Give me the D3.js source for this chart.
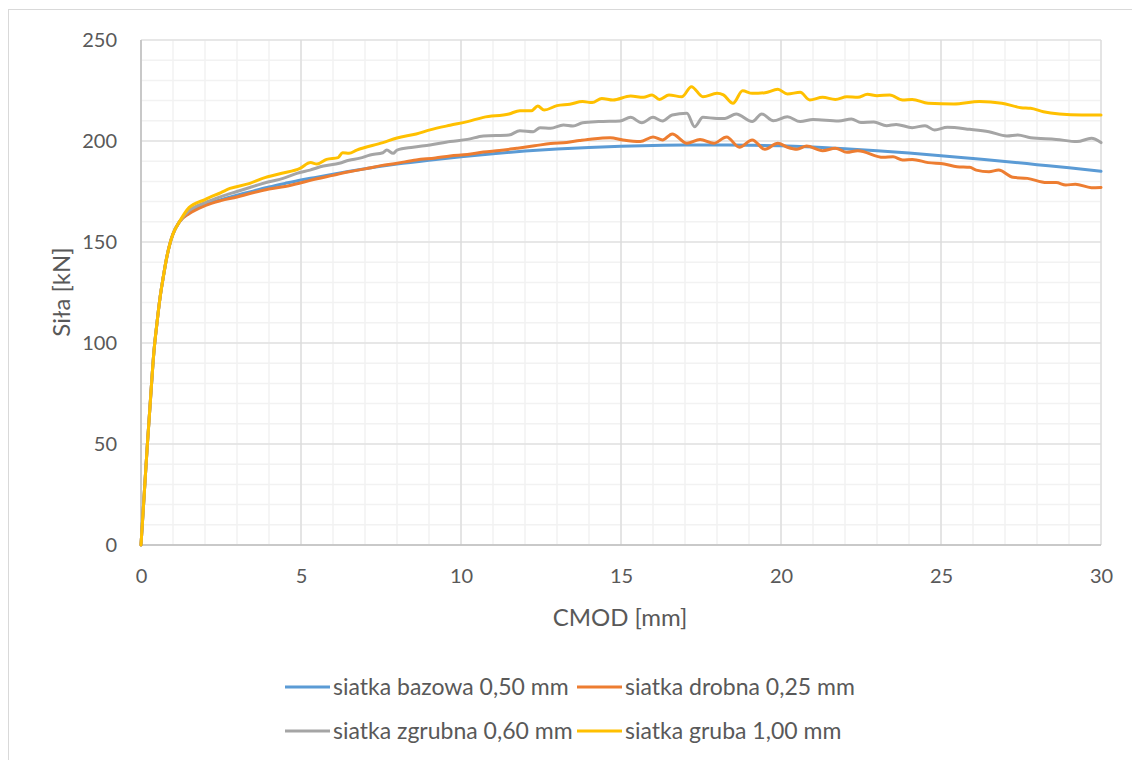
<!DOCTYPE html>
<html>
<head>
<meta charset="utf-8">
<script src="https://cdn.jsdelivr.net/npm/d3@7"></script>
<style>
  html, body { margin: 0; padding: 0; background: #fff; }
  svg { display: block; font-family: Lato, "Open Sans", sans-serif; }
</style>
</head>
<body>
<svg id="chart" width="1132" height="760"></svg>
<script>
// ---- data ----
const xTicks = [0, 5, 10, 15, 20, 25, 30];
const yTicks = [0, 50, 100, 150, 200, 250];
const seriesNames = ["siatka bazowa 0,50 mm", "siatka drobna 0,25 mm", "siatka zgrubna 0,60 mm", "siatka gruba 1,00 mm"];
const seriesColors = ["#5B9BD5", "#ED7D31", "#A5A5A5", "#FFC000"];

const riseCommon = [[0,0],[0.1,25],[0.2,50],[0.3,73],[0.4,95],[0.5,110],[0.6,123],[0.7,133],[0.8,142],[0.9,149],[1.0,154],[1.2,160]];

const bazowa = [[1.5,164.5],[2,168.5],[2.5,171],[3,173.2],[3.5,175.2],[4,177.2],[4.5,179],[5,180.7],[5.5,182.1],[6,183.6],[7,186.3],[8,188.6],[9,190.5],[10,192.2],[11,193.7],[12,195],[13,196],[14,196.8],[15,197.4],[16,197.8],[17,198],[18,198],[19,197.9],[20,197.6],[21,197],[22,196.2],[23,195.2],[24,194],[25,192.7],[26,191.3],[27,189.9],[28,188.3],[29,186.7],[30,185]];

const drobna = [[1.5,164],[2,168],[2.5,170.5],[3,172.3],[3.4,174],[4,176.2],[4.5,177.5],[5,179.3],[5.5,181.3],[6,183],[6.5,184.8],[7,186.2],[7.5,187.8],[8,189],[8.6,190.6],[9.2,191.6],[9.66,192.6],[10.2,193.3],[10.7,194.5],[11.2,195.3],[11.74,196.4],[12.3,197.6],[12.8,198.8],[13.3,199.3],[13.7,200.2],[14.1,201],[14.66,201.6],[15.06,200.5],[15.6,199.7],[16.0,202],[16.3,200.5],[16.6,203.5],[17.06,198.9],[17.47,200.8],[17.9,198.9],[18.3,202],[18.7,196.9],[19.1,200.5],[19.5,195.9],[19.9,198.9],[20.2,196.9],[20.5,195.9],[20.8,197.5],[21.3,195.2],[21.7,196.4],[22.06,194.4],[22.4,195.2],[23.2,191.9],[23.5,192.2],[23.8,190.6],[24.1,190.9],[24.6,189.3],[25.1,188.6],[25.5,187.3],[25.9,187],[26.1,185.6],[26.5,184.8],[26.8,185.6],[27.25,182],[27.7,181.5],[28.3,179.4],[28.6,179.4],[28.9,178.2],[29.2,178.6],[29.7,176.9],[30,177]];

const zgrubna = [[1.5,165.5],[2,169.5],[2.5,172.5],[3,175],[3.4,177],[4,179.8],[4.44,181.5],[4.87,184],[5.28,185.6],[5.7,187.6],[6.2,189],[6.5,190.5],[6.84,191.5],[7.16,193.1],[7.56,194.2],[7.68,195.5],[7.88,193.9],[8.0,195.5],[8.5,196.9],[9.03,198],[9.66,199.7],[10.2,200.8],[10.7,202.5],[11.5,203],[11.84,205.1],[12.26,204.6],[12.47,206.6],[12.8,206.3],[13.2,207.9],[13.5,207.4],[13.8,209],[14.3,209.6],[14.97,209.9],[15.3,211.7],[15.65,209],[16.0,211.7],[16.3,209.9],[16.6,212.9],[17.06,213.7],[17.3,207],[17.56,211.7],[18,211.2],[18.25,211.2],[18.6,213.4],[19.1,209.6],[19.4,213.4],[19.76,210],[20.2,212],[20.6,209.6],[21,210.7],[21.8,209.9],[22.2,210.9],[22.5,209.2],[22.9,209.4],[23.3,207.6],[23.6,208.2],[24.1,206.6],[24.5,207.6],[24.8,205.4],[25.2,206.8],[25.9,205.8],[26.5,204.6],[27.06,202.5],[27.4,203],[27.8,201.6],[28.6,200.8],[29.25,199.7],[29.7,201.3],[30,199.2]];

const gruba = [[1.5,167],[2,171],[2.5,174.5],[2.78,176.5],[3.4,179],[3.8,181.5],[4.4,184],[4.97,186.5],[5.3,189.3],[5.5,188.6],[5.8,190.9],[6.16,191.8],[6.3,194.2],[6.5,193.9],[6.74,195.5],[7.56,199.2],[8.0,201.5],[8.6,203.5],[9.03,205.5],[9.66,207.8],[10.2,209.6],[10.7,211.7],[11.5,213.4],[11.84,215],[12.2,215],[12.4,217.3],[12.6,215.3],[13,217.5],[13.4,218.2],[13.8,219.5],[14.1,219],[14.4,221.1],[14.75,220.3],[15.3,222.3],[15.7,221.6],[15.97,222.8],[16.2,220.6],[16.5,222.8],[16.9,221.9],[17.2,226.9],[17.56,221.9],[18,223.6],[18.2,222.8],[18.5,218.7],[18.8,224.9],[19.1,223.6],[19.5,223.9],[19.9,225.6],[20.2,223.3],[20.6,224.1],[20.9,220.3],[21.3,221.6],[21.7,220.6],[22.06,221.9],[22.4,221.6],[22.7,223.1],[23,222.4],[23.4,222.8],[23.8,220.3],[24.1,220.6],[24.6,218.7],[25.4,218.3],[26.2,219.5],[26.9,218.7],[27.5,216.5],[27.8,216.2],[28.2,214.5],[28.7,213.4],[29.4,212.9],[30,212.9]];

const allSeries = [bazowa, drobna, zgrubna, gruba].map(s => riseCommon.concat(s));

// ---- layout ----
const svg = d3.select("#chart");
const pLeft = 141, pRight = 1101, pTop = 40, pBottom = 545;
const x = d3.scaleLinear().domain([0, 30]).range([pLeft, pRight]);
const y = d3.scaleLinear().domain([0, 250]).range([pBottom, pTop]);
const textColor = "#595959";

// chart border
svg.append("rect").attr("x", 8.5).attr("y", 9.5).attr("width", 1140).attr("height", 770)
  .attr("fill", "#fff").attr("stroke", "#D9D9D9").attr("stroke-width", 1);

// minor grid
const g = svg.append("g");
g.selectAll(".vminor").data(d3.range(0, 31, 1)).join("line")
  .attr("x1", d => x(d)).attr("x2", d => x(d)).attr("y1", pTop).attr("y2", pBottom)
  .attr("stroke", "#F2F2F2").attr("stroke-width", 1.5);
g.selectAll(".hminor").data(d3.range(0, 251, 10)).join("line")
  .attr("y1", d => y(d)).attr("y2", d => y(d)).attr("x1", pLeft).attr("x2", pRight)
  .attr("stroke", "#F2F2F2").attr("stroke-width", 1.5);
// major grid
g.selectAll(".vmajor").data(xTicks).join("line")
  .attr("x1", d => x(d)).attr("x2", d => x(d)).attr("y1", pTop).attr("y2", pBottom)
  .attr("stroke", "#D9D9D9").attr("stroke-width", 1.2);
g.selectAll(".hmajor").data(yTicks).join("line")
  .attr("y1", d => y(d)).attr("y2", d => y(d)).attr("x1", pLeft).attr("x2", pRight)
  .attr("stroke", "#D9D9D9").attr("stroke-width", 1.2);

// axes lines
svg.append("line").attr("x1", pLeft).attr("x2", pRight).attr("y1", pBottom).attr("y2", pBottom)
  .attr("stroke", "#BFBFBF").attr("stroke-width", 1.5);
svg.append("line").attr("x1", pLeft).attr("x2", pLeft).attr("y1", pTop).attr("y2", pBottom)
  .attr("stroke", "#BFBFBF").attr("stroke-width", 1.5);

// tick labels via d3 axes
const xAxis = d3.axisBottom(x).tickValues(xTicks).tickSize(0).tickPadding(24).tickFormat(d3.format("d"));
const gx = svg.append("g").attr("transform", `translate(0,${pBottom})`).call(xAxis);
gx.select(".domain").remove();
gx.selectAll("text").attr("font-size", 20).attr("fill", textColor).attr("font-family", "Lato");

const yAxis = d3.axisLeft(y).tickValues(yTicks).tickSize(0).tickPadding(24).tickFormat(d3.format("d"));
const gy = svg.append("g").attr("transform", `translate(${pLeft},0)`).call(yAxis);
gy.select(".domain").remove();
gy.selectAll("text").attr("font-size", 20).attr("fill", textColor).attr("font-family", "Lato");

// axis titles
svg.append("text").attr("x", 620).attr("y", 626).attr("text-anchor", "middle")
  .attr("font-size", 24).attr("fill", textColor).text("CMOD [mm]");
svg.append("text").attr("transform", "translate(70,292) rotate(-90)").attr("text-anchor", "middle")
  .attr("font-size", 24).attr("fill", textColor).text("Siła [kN]");

// lines
const line = d3.line().x(d => x(d[0])).y(d => y(d[1])).curve(d3.curveMonotoneX);
svg.append("g").selectAll("path").data(allSeries).join("path")
  .attr("d", line).attr("fill", "none")
  .attr("stroke", (d, i) => seriesColors[i]).attr("stroke-width", 3)
  .attr("stroke-linejoin", "round").attr("stroke-linecap", "round");

// legend
const legendPos = [[285, 687], [577, 687], [285, 731], [577, 731]];
const lg = svg.append("g").selectAll("g").data(seriesNames).join("g")
  .attr("transform", (d, i) => `translate(${legendPos[i][0]},${legendPos[i][1]})`);
lg.append("line").attr("x1", 0).attr("x2", 45).attr("y1", 0).attr("y2", 0)
  .attr("stroke", (d, i) => seriesColors[i]).attr("stroke-width", 3);
lg.append("text").attr("x", 48).attr("y", 8).attr("font-size", 23).attr("fill", textColor).text(d => d);
</script>
</body>
</html>
